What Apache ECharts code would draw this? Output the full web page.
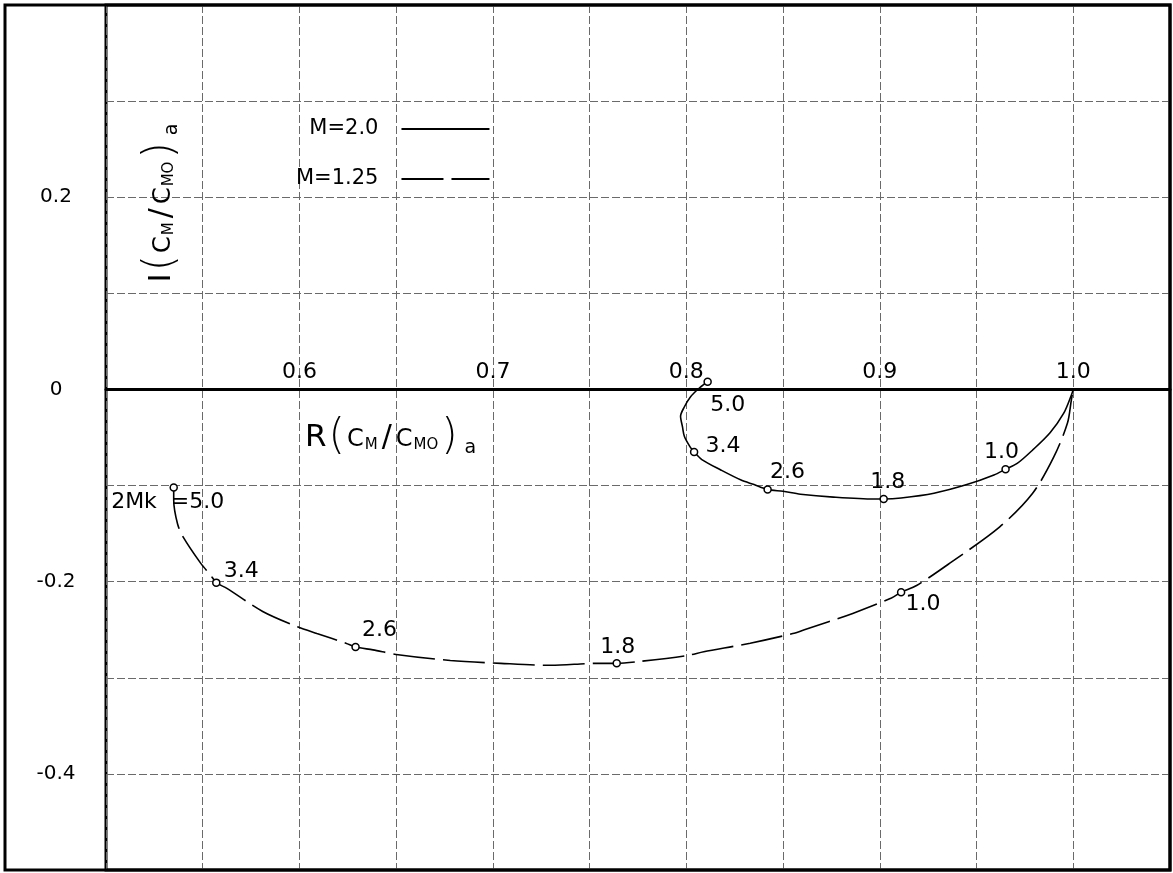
<!DOCTYPE html>
<html><head><meta charset="utf-8">
<script src="https://cdn.jsdelivr.net/npm/echarts@6/dist/echarts.min.js"></script>
<style>html,body{margin:0;padding:0;background:#fff}#c{width:1173px;height:873px}</style>
</head><body><div id="c"></div>
<script>
// ---- data ----
const xTickLabels = ['0.6', '0.7', '0.8', '0.9', '1.0'];
const yTickLabels = ['0.2', '0', '-0.2', '-0.4'];
const seriesNames = ['M=2.0', 'M=1.25'];
const pointLabels = ['5.0', '3.4', '2.6', '1.8', '1.0'];

// M = 2.0 (solid) curve
const curveM20 = [
  [0.811, 0.008], [0.807, 0.002], [0.802, -0.008], [0.799, -0.018], [0.797, -0.028],
  [0.798, -0.039], [0.799, -0.049], [0.802, -0.060], [0.804, -0.065], [0.808, -0.073],
  [0.818, -0.084], [0.828, -0.094], [0.835, -0.099], [0.842, -0.104], [0.850, -0.106],
  [0.859, -0.109], [0.876, -0.112], [0.897, -0.114], [0.902, -0.114], [0.911, -0.113],
  [0.928, -0.108], [0.945, -0.099], [0.959, -0.089], [0.965, -0.083], [0.971, -0.077],
  [0.979, -0.063], [0.988, -0.045], [0.995, -0.025], [0.999, -0.006], [1.0, 0]
];
// M = 1.25 (dashed) curve
const curveM125 = [
  [0.535, -0.102], [0.535, -0.115], [0.537, -0.140], [0.540, -0.154], [0.549, -0.181],
  [0.554, -0.193], [0.557, -0.201], [0.5625, -0.207], [0.581, -0.231], [0.599, -0.247],
  [0.609, -0.254], [0.624, -0.264], [0.629, -0.268], [0.638, -0.271], [0.651, -0.276],
  [0.678, -0.282], [0.704, -0.285], [0.730, -0.287], [0.754, -0.285], [0.764, -0.285],
  [0.776, -0.283], [0.800, -0.277], [0.809, -0.273], [0.833, -0.264], [0.855, -0.254],
  [0.861, -0.250], [0.886, -0.233], [0.906, -0.217], [0.911, -0.211], [0.919, -0.204],
  [0.936, -0.181], [0.962, -0.143], [0.979, -0.108], [0.990, -0.070], [0.997, -0.035],
  [0.999, -0.011], [1.0, 0]
];
// marked points (2Mk values)
const pointsM20 = [[0.811, 0.008], [0.804, -0.065], [0.842, -0.104], [0.902, -0.114], [0.965, -0.083]];
const pointsM125 = [[0.535, -0.102], [0.557, -0.201], [0.629, -0.268], [0.764, -0.285], [0.911, -0.211]];

// ---- presentation ----
const FONT = 'DejaVu Sans';
const offsM20 = [[20, 24], [29, -6], [20, -17], [4, -17], [-4, -17]];
const offsM125 = [[-6, 15], [25, -11], [24, -17], [1, -16], [22, 12]];
const GRID = { left: 106, right: 3, top: 5, bottom: 3 };
const Y_MIN = -0.5, Y_MAX = 0.4, H = 873;

function pts(arr, offs, prefix) {
  return arr.map((v, i) => ({
    value: v,
    label: { offset: offs[i], formatter: (i === 0 && prefix ? prefix : '') + pointLabels[i] }
  }));
}

// distance of the zero line above the bottom of the plot (x-axis labels sit on it)
const plotH = H - GRID.top - GRID.bottom;
const zeroOffset = plotH * (0 - Y_MIN) / (Y_MAX - Y_MIN);

const chart = echarts.init(document.getElementById('c'), null, { renderer: 'canvas' });
const scatterStyle = {
  type: 'scatter', symbol: 'circle', symbolSize: 7, z: 5,
  itemStyle: { color: '#fff', borderColor: '#000', borderWidth: 1.5, opacity: 1 },
  label: { show: true, position: 'inside', align: 'center', verticalAlign: 'middle',
           color: '#000', fontFamily: FONT, fontSize: 22 },
  emphasis: { disabled: true }
};

const LH = 46;
const richBase = {
  r: { fontFamily: FONT, fontSize: 31, color: '#000', verticalAlign: 'middle', lineHeight: LH },
  p: { fontFamily: FONT, fontSize: 42, color: '#000', fontWeight: 'lighter', verticalAlign: 'middle', lineHeight: LH, padding: [0, 2, 0, 2] },
  c: { fontFamily: FONT, fontSize: 24, color: '#000', verticalAlign: 'middle', lineHeight: LH, padding: [4, 0, 0, 0] },
  l: { fontFamily: FONT, fontSize: 30, color: '#000', verticalAlign: 'middle', lineHeight: LH, padding: [0, 4, 0, 3] },
  s: { fontFamily: FONT, fontSize: 15, color: '#000', verticalAlign: 'middle', lineHeight: LH, padding: [14, 1, 0, 1] },
  a: { fontFamily: FONT, fontSize: 19, color: '#000', verticalAlign: 'middle', lineHeight: LH, padding: [20, 0, 0, 5] }
};
const titleText = c => '{r|' + c + '}{p|(}{c|C}{s|M}{l|/}{c|C}{s|MO}{p|)}{a|a}';

chart.setOption({
  animation: false,
  backgroundColor: '#fff',
  grid: Object.assign({ show: true, borderColor: '#000', borderWidth: 3 }, GRID),
  xAxis: {
    type: 'value', min: 0.5, max: 1.05, interval: 0.05,
    position: 'bottom', offset: -zeroOffset,
    axisLine: { onZero: false, lineStyle: { color: '#000', width: 3 } },
    axisTick: { show: false },
    axisLabel: {
      inside: true, margin: 6, color: '#000', fontFamily: FONT, fontSize: 22,
      formatter: v => {
        const t = (Math.round(v * 10) / 10).toFixed(1);
        return (Math.abs(v * 10 - Math.round(v * 10)) < 1e-6 && xTickLabels.includes(t)) ? t : '';
      }
    },
    splitLine: { show: true, lineStyle: { color: '#6a6a6a', width: 1, type: [8, 3] } }
  },
  yAxis: {
    type: 'value', min: Y_MIN, max: Y_MAX, interval: 0.1,
    axisLine: { show: false },
    axisTick: { show: false },
    axisLabel: {
      color: '#000', fontFamily: FONT, fontSize: 20, align: 'center', margin: 50,
      formatter: v => {
        const r = Math.round(v * 10) / 10;
        const t = r === 0 ? '0' : r.toFixed(1);
        return yTickLabels.includes(t) ? t : '';
      }
    },
    splitLine: { show: true, lineStyle: { color: '#6a6a6a', width: 1, type: [8, 3] } }
  },
  legend: {
    data: seriesNames, orient: 'vertical', align: 'right', left: 291, top: 113,
    itemWidth: 88, itemHeight: 14, itemGap: 28, selectedMode: false,
    itemStyle: { opacity: 0, color: 'rgba(0,0,0,0)', borderWidth: 0 },
    textStyle: { color: '#000', fontFamily: FONT, fontSize: 21, lineHeight: 22, padding: [0, 18, 0, 0] }
  },
  series: [
    { name: seriesNames[0], type: 'line', data: curveM20, smooth: 0.3, symbol: 'none', z: 3,
      lineStyle: { color: '#000', width: 1.6 }, itemStyle: { color: '#000' } },
    { name: seriesNames[1], type: 'line', data: curveM125, smooth: 0.3, symbol: 'none', z: 3,
      lineStyle: { color: '#000', width: 1.6, type: [42, 8] }, itemStyle: { color: '#000' } },
    Object.assign({ name: 'pts20', data: pts(pointsM20, offsM20) }, scatterStyle),
    Object.assign({ name: 'pts125', data: pts(pointsM125, offsM125, '2Mk  =') }, scatterStyle)
  ],
  graphic: [
    { type: 'rect', shape: { x: 5, y: 5, width: 1165, height: 865 }, silent: true, z: 100,
      style: { fill: 'none', stroke: '#000', lineWidth: 3 } },
    { type: 'text', x: 305, y: 438, silent: true, z: 100,
      style: { text: titleText('R'), rich: richBase, verticalAlign: 'middle', align: 'left' } },
    { type: 'text', x: 162, y: 203, rotation: Math.PI / 2, silent: true, z: 100,
      style: { text: titleText('I'), rich: richBase, verticalAlign: 'middle', align: 'center' } }
  ]
});
</script></body></html>
